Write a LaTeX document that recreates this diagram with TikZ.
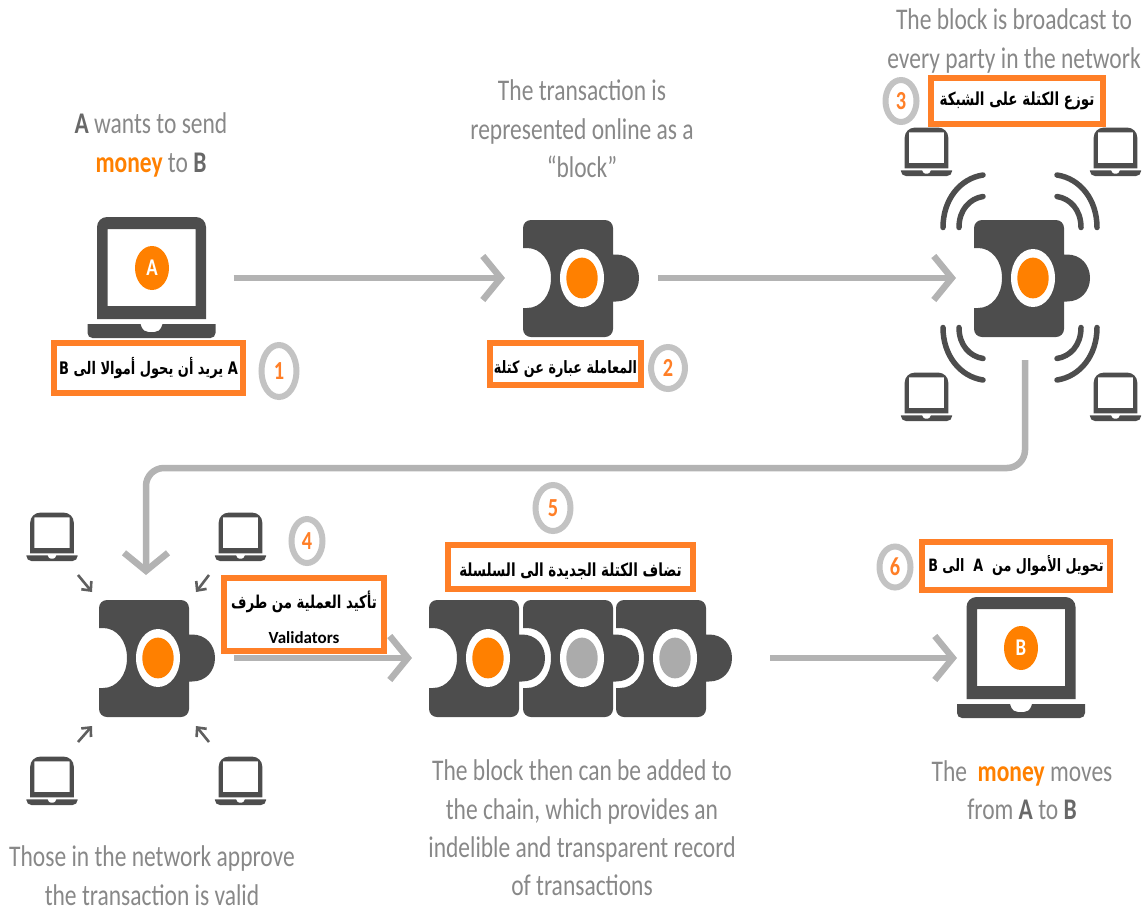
\documentclass[tikz,border=0pt]{standalone}
\usepackage{fontspec}
\usetikzlibrary{arrows.meta,shapes.geometric}
\setmainfont[FakeStretch=0.783]{Carlito}
\newfontfamily\arabicfont[Script=Arabic,FakeStretch=0.75]{DejaVu Sans}
\TeXXeTstate=1

\definecolor{inkgray}{HTML}{4D4D4D}
\definecolor{dotorange}{HTML}{FF8000}
\definecolor{boxorange}{HTML}{FF7F27}
\definecolor{flowgray}{HTML}{B3B3B3}
\definecolor{ringgray}{HTML}{C3C3C3}
\definecolor{captiongray}{HTML}{888888}
\definecolor{dotgray}{HTML}{ABABAB}

\newcommand{\darkbold}[1]{\textbf{\textcolor{inkgray!85}{#1}}}

\tikzset{
 	block/.pic={
 		\fill[inkgray] (31,-23.5) -- (34,-23.5) .. controls (48,-23.5) and (57,-13) .. (57,0)
 			.. controls (57,13) and (48,23.5) .. (34,23.5) -- (31,23.5)
 			[rounded corners=8pt] -- (31,59) -- (-59,59) [sharp corners] -- (-59,30) -- (-55,30)
 			.. controls (-41,30) and (-31,17) .. (-31,0) .. controls (-31,-17) and (-41,-30) .. (-55,-30)
 			-- (-59,-30) [rounded corners=8pt] -- (-59,-58) -- (31,-58) [sharp corners] -- cycle;
 		\fill[white] (0,0) ellipse[x radius=22,y radius=29];
 		\fill[#1] (0,0) ellipse[x radius=15.7,y radius=20.4];
 		\coordinate (-in) at (-77,0);
 		\coordinate (-out) at (76,0);
 	},
 	laptop/.pic={
 		\fill[inkgray,even odd rule] (-54.5,51) [rounded corners=10pt] -- (-54.5,-51) -- (54.5,-51)
 			[sharp corners] -- (54.5,51) -- cycle (-44,-39) rectangle (44,38);
 		\fill[inkgray] (-64,56) -- (-11,56) .. controls (-9,63) and (-6,64) .. (-3,64) -- (3,64)
 			.. controls (6,64) and (9,63) .. (11,56) -- (64,56) [rounded corners=5pt] -- (64,70)
 			-- (-64,70) [sharp corners] -- cycle;
 		\coordinate (-in) at (-64,10);
 		\coordinate (-out) at (82,10);
 	},
 	smalllaptop/.style={scale=0.4},
 	flowarrow/.style={draw=flowgray,line width=6.5pt,-{Straight Barb[length=18pt,width=44pt]}},
 	tinyarrow/.style={draw=inkgray!90,line width=2.6pt,-{Straight Barb[length=7pt,width=13pt]}},
 	wave/.style={draw=inkgray,line width=5.5pt,line cap=round},
 	caption/.style={font=\fontsize{30}{38.4}\selectfont,text=captiongray,align=center,inner sep=0pt},
 	notebox/.style={draw=boxorange,fill=white,line width=6pt,rectangle,inner sep=0pt,align=center,
 		font=\arabicfont\bfseries\fontsize{#1}{20}\selectfont,text=black},
 	badge/.style={draw=ringgray,fill=white,line width=6pt,ellipse,inner sep=0pt,
 		font=\bfseries\fontsize{26}{26}\selectfont,text=boxorange},
 	letterdot/.style={fill=dotorange,ellipse,minimum width=34pt,minimum height=44pt,inner sep=0pt,
 		font=\bfseries\fontsize{24}{24}\selectfont,text=white},
}

\begin{document}
\begin{tikzpicture}[x=1pt,y=-1pt]
 	\useasboundingbox (0,0) rectangle (1146,911);
 	% top row
 	\pic (lapA) at (151.5,268) {laptop};
 	\node[letterdot] (dotA) at (152,268) {A};
 	\pic (blockA) at (582,278) {block=dotorange};
 	\pic (blockC) at (1033,278) {block=dotorange};
 	\pic[smalllaptop] (lapa) at (926.5,148) {laptop};
 	\pic[smalllaptop] (lapb) at (1115.5,148) {laptop};
 	\pic[smalllaptop] (lapc) at (926.5,393) {laptop};
 	\pic[smalllaptop] (lapd) at (1115.5,393) {laptop};
 	\foreach \sx/\sy in {1/1,-1/1,1/-1,-1/-1} {
 		\draw[wave] (1020+\sx*37,277.5+\sy*102.5) .. controls (1020+\sx*60,277.5+\sy*99) and (1020+\sx*77,277.5+\sy*78) .. (1020+\sx*77,277.5+\sy*50);
 		\draw[wave] (1020+\sx*37,277.5+\sy*81) .. controls (1020+\sx*50,277.5+\sy*79) and (1020+\sx*61,277.5+\sy*68) .. (1020+\sx*61,277.5+\sy*50);
 	}
 	% bottom row
 	\pic (blockD) at (158,658) {block=dotorange};
 	\pic (chainc) at (675,658) {block=dotgray};
 	\pic (chainb) at (582,658) {block=dotgray};
 	\pic (chaina) at (488,658) {block=dotorange};
 	\pic (lapB) at (1021,648) {laptop};
 	\node[letterdot] (dotB) at (1021,648) {B};
 	\pic[smalllaptop] (lape) at (52,533) {laptop};
 	\pic[smalllaptop] (lapf) at (240.5,533) {laptop};
 	\pic[smalllaptop] (lapg) at (52,777) {laptop};
 	\pic[smalllaptop] (laph) at (240.5,777) {laptop};
 	\coordinate (bcastout) at (1025,360);
 	\coordinate (valin) at (146,575);
 	\coordinate (turn) at (1025,468);
 	\coordinate (chainin) at (412,658);
 	\coordinate (chainout) at (770,658);
 	\coordinate (aa) at (78,575);
 	\coordinate (ab) at (92,592);
 	\coordinate (ba) at (209,575);
 	\coordinate (bb) at (196,592);
 	\coordinate (ca) at (78,742);
 	\coordinate (cb) at (92,726);
 	\coordinate (da) at (209,742);
 	\coordinate (db) at (196,726);
 	% connectors
 	\draw[flowarrow] (lapA-out) -- (blockA-in);
 	\draw[flowarrow] (blockA-out) -- (blockC-in);
 	\draw[flowarrow,rounded corners=18pt] (bcastout) |- (valin |- turn) -- (valin);
 	\draw[flowarrow] (blockD-out) -- (chainin);
 	\draw[flowarrow] (chainout) -- (lapB-in);
 	\draw[tinyarrow] (aa) -- (ab);
 	\draw[tinyarrow] (ba) -- (bb);
 	\draw[tinyarrow] (ca) -- (cb);
 	\draw[tinyarrow] (da) -- (db);
 	% captions
 	\node[caption] (capA) at (151,145) {\darkbold{A} wants to send\\\textbf{\textcolor{dotorange}{money}} to \darkbold{B}};
 	\node[caption] (capB) at (582,129) {The transaction is\\represented online as a\\“block”};
 	\node[caption] (capC) at (1014,41) {The block is broadcast to\\every party in the network};
 	\node[caption] (capD) at (152,875.5) {Those in the network approve\\the transaction is valid};
 	\node[caption] (capE) at (582,828) {The block then can be added to\\the chain, which provides an\\indelible and transparent record\\of transactions};
 	\node[caption] (capF) at (1022,790) {The \ \textbf{\textcolor{dotorange}{money}} moves\\from \darkbold{A} to \darkbold{B}};
 	% orange notes
 	\node[notebox=17.3,minimum width=189pt,minimum height=50pt] (noteA) at (148.5,368) {\beginR A يريد أن يحول أموالا الى B\endR};
 	\node[notebox=17,minimum width=151pt,minimum height=42pt] (noteB) at (565.5,364) {\rule{0pt}{24pt}\beginR المعاملة عبارة عن كتلة\endR};
 	\node[notebox=18,minimum width=172pt,minimum height=46pt] (noteC) at (1017,101) {\beginR توزع الكتلة على الشبكة\endR};
 	\node[notebox=17.7,minimum width=160pt,minimum height=73pt] (noteD) at (304,614.5) {\rule{0pt}{24pt}\beginR تأكيد العملية من طرف\endR\\[15pt]{\fontspec{Carlito}\fontsize{17}{17}\selectfont Validators}};
 	\node[notebox=18,minimum width=245pt,minimum height=44pt] (noteE) at (570.5,567) {\rule{0pt}{22pt}\beginR تضاف الكتلة الجديدة الى السلسلة\endR};
 	\node[notebox=17,minimum width=188pt,minimum height=48pt] (noteF) at (1016,566) {\beginR تحويل الأموال من \ A \ الى B\endR};
 	% numbered rings
 	\node[badge,minimum width=35pt,minimum height=52pt] (ringA) at (279,371) {1};
 	\node[badge,minimum width=34pt,minimum height=42pt] (ringB) at (668,368) {2};
 	\node[badge,minimum width=31pt,minimum height=42pt] (ringC) at (901,101) {3};
 	\node[badge,minimum width=31pt,minimum height=44pt] (ringD) at (307,541) {4};
 	\node[badge,minimum width=35pt,minimum height=46pt] (ringE) at (553,508) {5};
 	\node[badge,minimum width=31pt,minimum height=41pt] (ringF) at (895,567) {6};
\end{tikzpicture}
\end{document}
